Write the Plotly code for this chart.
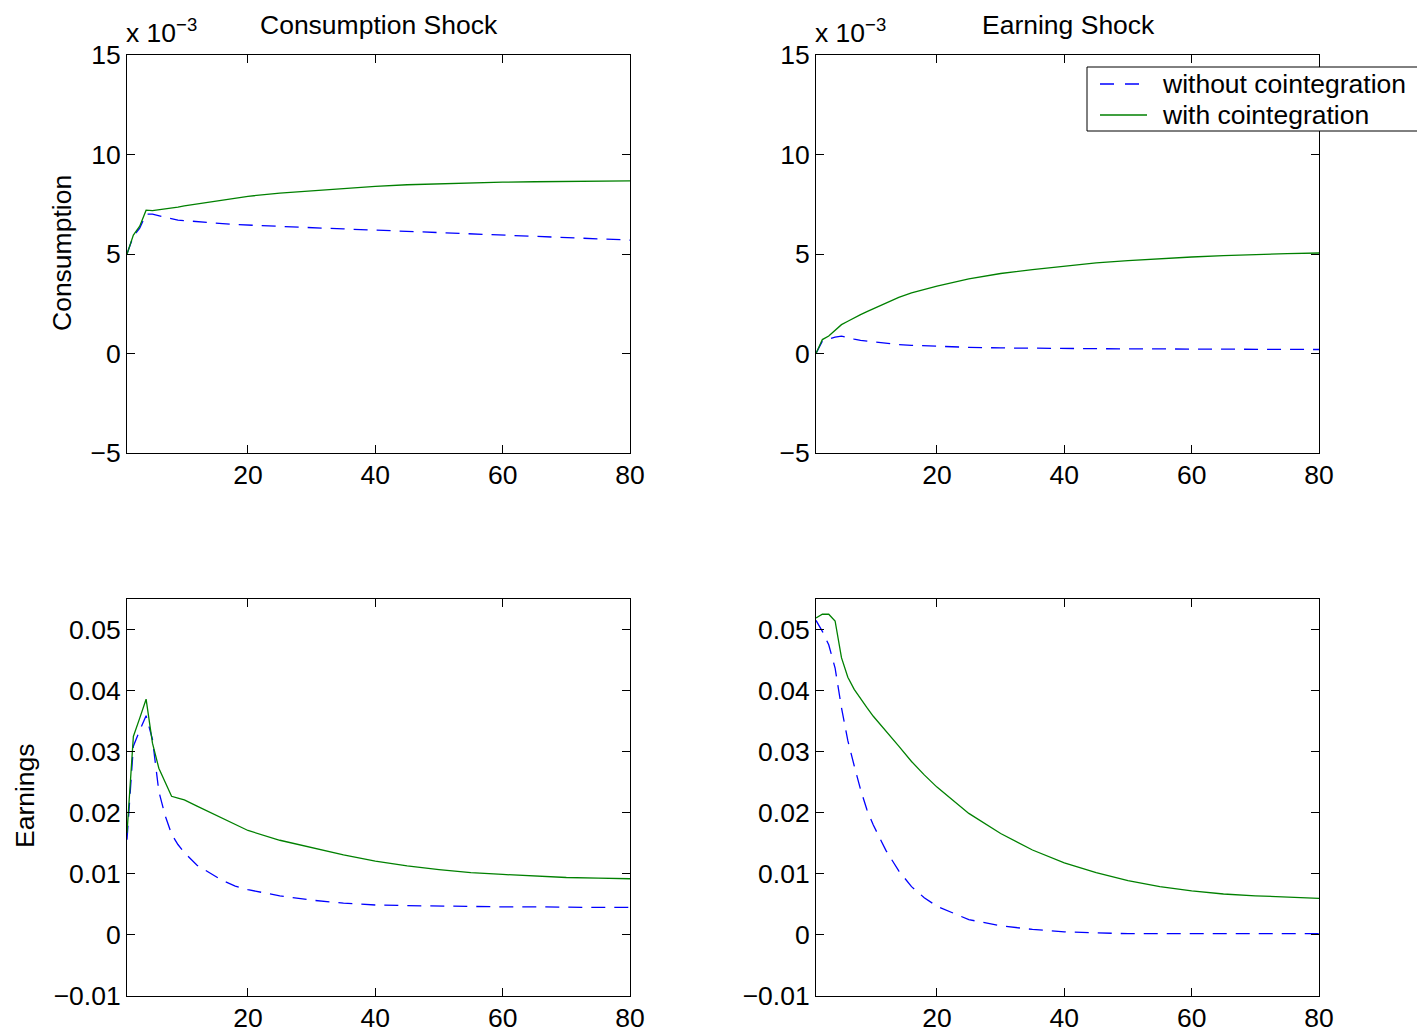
import plotly.graph_objects as go

# Horizon (quarters) at which values were read
x_pts = [1, 2, 3, 4, 5, 6, 7, 8, 9, 10, 12, 14, 16, 18, 20, 25, 30, 35, 40, 45, 50, 55, 60, 65, 70, 75, 80]

# Consumption response to consumption shock (units of 1e-3)
cc_without = [5.0, 5.9, 6.3, 7.0, 7.0, 6.92, 6.85, 6.75, 6.7, 6.68, 6.64, 6.58, 6.53, 6.48, 6.45, 6.38, 6.32, 6.26, 6.2, 6.14, 6.08, 6.02, 5.95, 5.88, 5.82, 5.76, 5.7]
cc_with = [5.0, 5.95, 6.4, 7.2, 7.18, 7.22, 7.28, 7.32, 7.36, 7.42, 7.52, 7.62, 7.72, 7.8, 7.9, 8.06, 8.18, 8.3, 8.4, 8.48, 8.53, 8.58, 8.61, 8.63, 8.65, 8.66, 8.67]

# Consumption response to earning shock (units of 1e-3)
ce_without = [0.0, 0.62, 0.72, 0.82, 0.87, 0.78, 0.72, 0.66, 0.62, 0.58, 0.51, 0.45, 0.41, 0.38, 0.35, 0.31, 0.28, 0.26, 0.25, 0.24, 0.23, 0.23, 0.22, 0.22, 0.21, 0.21, 0.2]
ce_with = [0.0, 0.7, 0.88, 1.15, 1.45, 1.62, 1.8, 1.95, 2.1, 2.25, 2.55, 2.82, 3.05, 3.22, 3.38, 3.75, 4.02, 4.22, 4.4, 4.55, 4.67, 4.77, 4.85, 4.92, 4.98, 5.02, 5.05]

# Earnings response to consumption shock
ec_without = [0.0156, 0.0309, 0.0335, 0.0359, 0.032, 0.0235, 0.0195, 0.0165, 0.0148, 0.0135, 0.0114, 0.0101, 0.0089, 0.008, 0.0074, 0.0064, 0.0057, 0.0052, 0.0049, 0.0048, 0.0047, 0.0047, 0.0046, 0.0046, 0.0045, 0.0045, 0.0045]
ec_with = [0.0167, 0.0325, 0.0355, 0.0386, 0.0314, 0.0273, 0.025, 0.0227, 0.0224, 0.0221, 0.0211, 0.0201, 0.019, 0.018, 0.0171, 0.0155, 0.0143, 0.0131, 0.0121, 0.0113, 0.0107, 0.0102, 0.0099, 0.0096, 0.0094, 0.0093, 0.0092]

# Earnings response to earning shock
ee_without = [0.0515, 0.0497, 0.0475, 0.0437, 0.0372, 0.0318, 0.0277, 0.0238, 0.0205, 0.018, 0.0138, 0.0105, 0.0079, 0.0061, 0.0047, 0.0025, 0.0015, 0.0009, 0.0005, 0.0003, 0.0002, 0.0002, 0.0002, 0.0002, 0.0002, 0.0002, 0.0002]
ee_with = [0.0519, 0.0525, 0.0525, 0.0514, 0.0454, 0.0422, 0.0402, 0.0386, 0.0372, 0.0358, 0.0334, 0.0309, 0.0284, 0.0262, 0.0242, 0.0199, 0.0166, 0.0139, 0.0118, 0.0102, 0.0089, 0.0079, 0.0072, 0.0067, 0.0064, 0.0062, 0.006]

series_names = ["without cointegration", "with cointegration"]
panel_titles = ["Consumption Shock", "Earning Shock"]
row_titles = ["Consumption", "Earnings"]

W, H = 1417, 1029
FONT = "Liberation Sans, Arial, sans-serif"
FS = 26.5
BLUE = "rgb(0,0,255)"
GREEN = "rgb(0,128,0)"
DASH = "14px,9px"

def px_x(p):
    return p / W

def px_y(p):
    return 1 - p / H

xdom = [[px_x(127), px_x(630)], [px_x(816), px_x(1319)]]
ydom = [[px_y(453), px_y(55)], [px_y(996), px_y(599)]]

fig = go.Figure()

panels = [
    (cc_without, cc_with, 0, 0),
    (ce_without, ce_with, 0, 1),
    (ec_without, ec_with, 1, 0),
    (ee_without, ee_with, 1, 1),
]

for i, (yw, yc, r, c) in enumerate(panels):
    n = i + 1
    xa = "x" if n == 1 else f"x{n}"
    ya = "y" if n == 1 else f"y{n}"
    fig.add_trace(go.Scatter(x=x_pts, y=yw, mode="lines", name=series_names[0],
                             line=dict(color=BLUE, width=1.3, dash=DASH),
                             xaxis=xa, yaxis=ya, showlegend=False))
    fig.add_trace(go.Scatter(x=x_pts, y=yc, mode="lines", name=series_names[1],
                             line=dict(color=GREEN, width=1.3),
                             xaxis=xa, yaxis=ya, showlegend=False))
    axkw = dict(showline=True, linecolor="black", linewidth=1, mirror="ticks",
                ticks="inside", ticklen=8, tickcolor="black", showgrid=False,
                zeroline=False, automargin=False,
                tickfont=dict(family=FONT, size=FS, color="black"))
    xkey = "xaxis" if n == 1 else f"xaxis{n}"
    ykey = "yaxis" if n == 1 else f"yaxis{n}"
    fig.layout[xkey] = dict(domain=xdom[c], anchor=ya, range=[1, 80],
                            tickvals=[20, 40, 60, 80], ticklabelstandoff=-2, **axkw)
    if r == 0:
        fig.layout[ykey] = dict(domain=ydom[r], anchor=xa, range=[-5, 15],
                                tickvals=[-5, 0, 5, 10, 15], **axkw)
    else:
        fig.layout[ykey] = dict(domain=ydom[r], anchor=xa, range=[-0.01, 0.055],
                                tickvals=[-0.01, 0, 0.01, 0.02, 0.03, 0.04, 0.05],
                                ticktext=["\u22120.01", "0", "0.01", "0.02", "0.03", "0.04", "0.05"],
                                **axkw)

tf = dict(family=FONT, size=FS, color="black")
ann = []
# Panel titles
ann.append(dict(text=panel_titles[0], x=px_x(379), y=px_y(25), xref="paper", yref="paper",
                xanchor="center", yanchor="middle", showarrow=False, font=tf))
ann.append(dict(text=panel_titles[1], x=px_x(1068), y=px_y(25), xref="paper", yref="paper",
                xanchor="center", yanchor="middle", showarrow=False, font=tf))
# Exponent labels
for xl in (124, 813):
    ann.append(dict(text="x 10<sup>\u22123</sup>", x=px_x(xl), y=px_y(31), xref="paper", yref="paper",
                    xanchor="left", yanchor="middle", showarrow=False, font=tf))
# Row titles
ann.append(dict(text=row_titles[0], x=px_x(62), y=px_y(253), xref="paper", yref="paper",
                xanchor="center", yanchor="middle", textangle=-90, showarrow=False, font=tf))
ann.append(dict(text=row_titles[1], x=px_x(25), y=px_y(796), xref="paper", yref="paper",
                xanchor="center", yanchor="middle", textangle=-90, showarrow=False, font=tf))

# Legend (drawn manually so it does not push the margins, box runs off the right edge)
shapes = [
    dict(type="rect", xref="paper", yref="paper", x0=px_x(1087), x1=px_x(1425),
         y0=px_y(131), y1=px_y(67), line=dict(color="black", width=1), fillcolor="white", layer="above"),
    dict(type="line", xref="paper", yref="paper", x0=px_x(1100), x1=px_x(1147),
         y0=px_y(84), y1=px_y(84), line=dict(color=BLUE, width=1.3, dash="14px,11px")),
    dict(type="line", xref="paper", yref="paper", x0=px_x(1100), x1=px_x(1147),
         y0=px_y(115), y1=px_y(115), line=dict(color=GREEN, width=1.3)),
]
for k, yy in enumerate((84, 115)):
    ann.append(dict(text=series_names[k], x=px_x(1160), y=px_y(yy), xref="paper", yref="paper",
                    xanchor="left", yanchor="middle", showarrow=False, font=tf))

fig.update_layout(
    width=W, height=H,
    margin=dict(l=0, r=0, t=0, b=0),
    paper_bgcolor="white", plot_bgcolor="white",
    annotations=ann,
    shapes=shapes,
    showlegend=False,
)

fig.write_html("out.html")
